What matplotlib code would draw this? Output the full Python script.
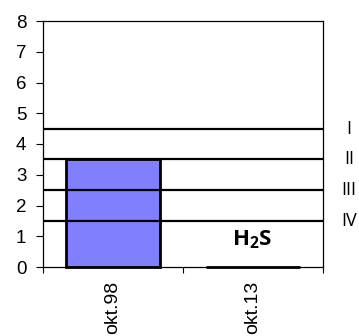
import matplotlib.pyplot as plt

plt.rcParams['font.family'] = ['Liberation Sans', 'DejaVu Sans']
plt.rcParams['mathtext.fontset'] = 'custom'
plt.rcParams['mathtext.rm'] = 'Open Sans'
plt.rcParams['mathtext.bf'] = 'Open Sans:bold'

# data
categories = ["okt.98", "okt.13"]
values = [3.5, 0.0]
class_limits = [4.5, 3.5, 2.5, 1.5]
class_labels = ["I", "II", "III", "IV"]

fig = plt.figure(figsize=(3.59, 3.36), dpi=100)
ax = fig.add_axes([43 / 359, 1 - 267 / 336, 280 / 359, 246 / 336])

x = range(len(categories))
bars = ax.bar(x, values, width=0.67, color="#8080ff", edgecolor="black",
              linewidth=2, zorder=2)
for b in bars:
    b.set_clip_on(False)

for lim, lab in zip(class_limits, class_labels):
    ax.axhline(lim, color="black", lw=1.6, zorder=3)
    ax.text(1.093, lim, lab, transform=ax.get_yaxis_transform(),
            ha="center", va="center", fontsize=13,
            family=["Open Sans", "DejaVu Sans"])

ax.text(0.746, 0.089, r"$\mathbf{H_2S}$", transform=ax.transAxes,
        ha="center", va="baseline", fontsize=16)

ax.set_xlim(-0.5, 1.5)
ax.set_ylim(0, 8)
ax.set_yticks(range(9))
ax.tick_params(axis="y", direction="out", length=5, width=0.8,
               labelsize=13.5, pad=7)

# category ticks at boundaries, labels at centres
ax.set_xticks([-0.5, 0.5, 1.5])
ax.set_xticklabels([])
ax.set_xticks(list(x), minor=True)
ax.set_xticklabels(categories, minor=True, rotation=90, fontsize=14,
                   va="top")
ax.tick_params(axis="x", which="major", direction="out", length=4.5,
               width=0.8)
ax.tick_params(axis="x", which="minor", length=0, pad=10)

for s in ax.spines.values():
    s.set_linewidth(0.9)

fig.savefig("out.png", dpi=100)
